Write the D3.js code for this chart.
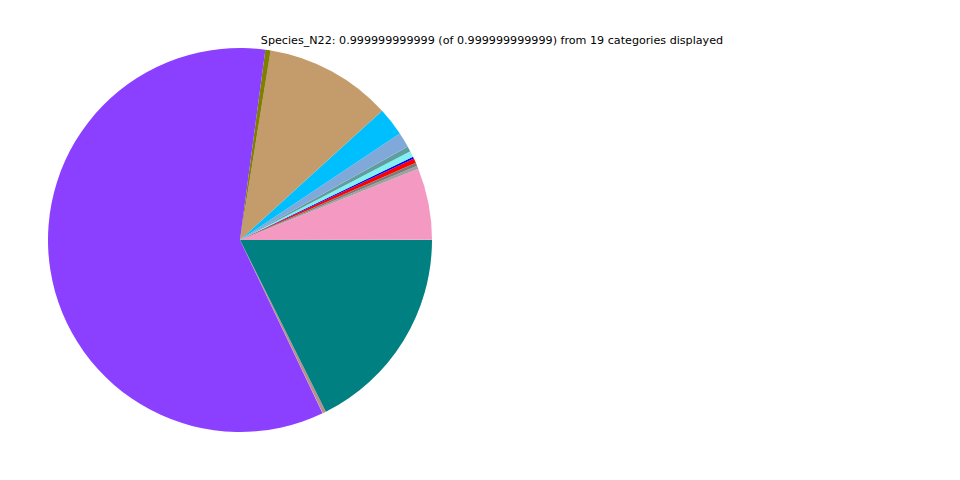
<!DOCTYPE html>
<html>
<head>
<meta charset="utf-8">
<script src="https://cdn.jsdelivr.net/npm/d3@7"></script>
<style>
  html, body { margin: 0; padding: 0; background: #ffffff; }
  svg { display: block; }
</style>
</head>
<body>
<svg id="chart" width="960" height="480"></svg>
<script>
// Data (percent shares, in drawing order counter-clockwise from 3 o'clock)
const categories = [
  "Category_01", "Category_02", "Category_03", "Category_04", "Category_05",
  "Category_06", "Category_07", "Category_08", "Category_09", "Category_10",
  "Category_11", "Category_12", "Category_13", "Category_14", "Category_15",
  "Category_16", "Category_17", "Category_18", "Category_19"
];
const values = [
  0.03, 6.03, 0.25, 0.25, 0.02, 0.39, 0.17, 0.50, 0.44, 0.02,
  1.25, 2.39, 10.69, 0.02, 0.44, 59.19, 0.02, 0.28, 17.62
];
const colors = [
  "#b8c8c8", "#f49ac2", "#a0a0a0", "#7a7a7a", "#556b2f", "#ff0000", "#0000ff", "#80f0f0", "#5f9ea0", "#4682b4",
  "#80a8d8", "#00bfff", "#c49c6b", "#8b4513", "#808000", "#8c40ff", "#d2b48c", "#bc8f8f", "#008080"
];
const titleText = "Species_N22: 0.999999999999 (of 0.999999999999) from 19 categories displayed";

const svg = d3.select("#chart");
const cx = 240, cy = 240, radius = 192;

const data = categories.map((c, i) => ({ name: c, value: values[i], color: colors[i] }));

const pie = d3.pie()
  .value(d => d.value)
  .sort(null)
  .startAngle(Math.PI / 2)
  .endAngle(Math.PI / 2 - 2 * Math.PI);

const arc = d3.arc().innerRadius(0).outerRadius(radius);

svg.append("g")
  .attr("transform", `translate(${cx},${cy})`)
  .selectAll("path")
  .data(pie(data))
  .join("path")
  .attr("d", arc)
  .attr("fill", d => d.data.color);

svg.append("text")
  .attr("x", 492)
  .attr("y", 44)
  .attr("text-anchor", "middle")
  .attr("font-family", "DejaVu Sans, sans-serif")
  .attr("font-size", "11.15px")
  .attr("fill", "#000")
  .text(titleText);
</script>
</body>
</html>
